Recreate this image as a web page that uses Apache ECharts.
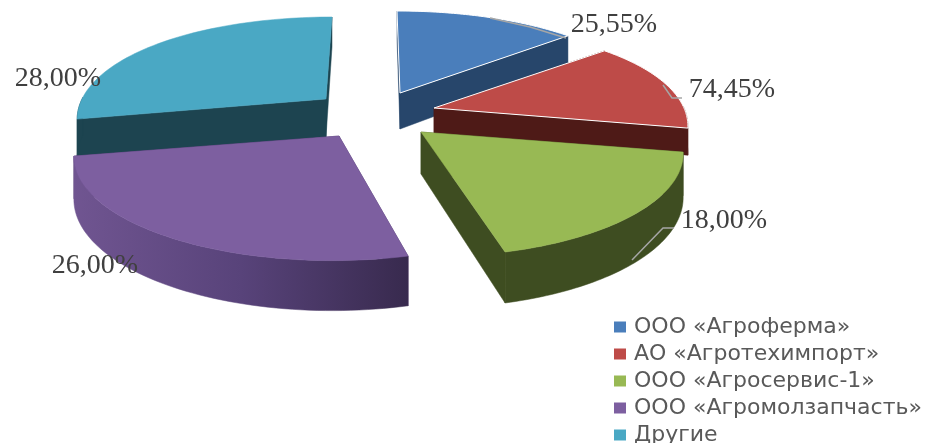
<!DOCTYPE html>
<html><head><meta charset="utf-8">
<style>html,body{margin:0;padding:0;background:#fff}#c{width:927px;height:443px}</style>
<script src="https://cdn.jsdelivr.net/npm/echarts@6/dist/echarts.min.js"></script>
</head><body><div id="c"></div>
<script>
// Data
const categories = ['ООО «Агроферма»','АО «Агротехимпорт»','ООО «Агросервис-1»','ООО «Агромолзапчасть»','Другие'];
const labelValues = [25.55, 74.45, 18.00, 26.00, 28.00];   // printed percentages
const sliceShares = [14, 14, 18, 26, 28];                  // angular share of each slice as drawn
const topColors  = ['#4a7ebb','#be4b48','#98b954','#7d5fa0','#4aa8c4'];
const sideColors = ['#27466b','#4e1a17','#3e4d21','#4a3566','#1d4450'];

// Presentation layout of the exploded pseudo-3D pie
const apex = [[400,93],[434,108],[421,132],[339,136],[326,99]];
const radiusX = [249,250,256.4,259.8,244];
const skew = [3,0,9.5,-7,-6];
const depthBase = [36,26,42,41,38];
const zOrder = [1,3,4,5,2];
const PERSP = 0.18, RY_A = 103.3, RY_B = 21.3, DEPTH_K = 0.22;
const labelPos = [[614,25],[732,90],[724,221],[95,266],[58,79]];
const leaders = [
  [[490,18],[530,27],[566,38]],
  [[663,85],[672,98],[682,98]],
  [[632,260],[663,228],[674,228]],
  [],[]
];

const chart = echarts.init(document.getElementById('c'));
const total = sliceShares.reduce((a,b)=>a+b,0);
const startShare = sliceShares.map((_,i)=>sliceShares.slice(0,i).reduce((a,b)=>a+b,0));

function project(i, a, down){
  const s = Math.sin(a), Y = -Math.cos(a);
  const x = apex[i][0] + radiusX[i]*s*(1+PERSP*Y) + skew[i]*Y;
  const y = apex[i][1] + Y*(RY_A+RY_B*Y);
  return down ? [x, y + depthBase[i]*(1+DEPTH_K*Y)] : [x, y];
}
function lower(i, p){ return [p[0], p[1]+depthBase[i]]; }

function sliceItem(i){
  return function(params, api){
    const a0 = startShare[i]/total*2*Math.PI;
    const a1 = a0 + api.value(0)/total*2*Math.PI;
    const n = 60, arc = [];
    for(let k=0;k<=n;k++) arc.push(a0+(a1-a0)*k/n);
    const children = [];
    const A = apex[i], AL = lower(i,A);
    const face = (pts,fill)=>children.push({type:'polygon',shape:{points:pts},style:{fill,stroke:fill,lineWidth:0.5}});
    face([A,project(i,a0),project(i,a0,true),AL], sideColors[i]);
    face([A,project(i,a1),project(i,a1,true),AL], sideColors[i]);
    const front = arc.filter(a=>-Math.cos(a)>=-0.02);
    if(front.length>1){
      const up = front.map(a=>project(i,a));
      const dn = front.map(a=>project(i,a,true)).reverse();
      let fill = sideColors[i];
      if(i===3) fill = new echarts.graphic.LinearGradient(0,0,1,0,[{offset:0,color:'#705591'},{offset:0.5,color:'#58437a'},{offset:1,color:'#382a4e'}]);
      face(up.concat(dn), fill);
    }
    const top = [A].concat(arc.map(a=>project(i,a)));
    children.push({type:'polygon',shape:{points:top},style:{fill:topColors[i],stroke:i<2?'#ffffff':topColors[i],lineWidth:i<2?1:0.5}});
    return {type:'group',children};
  };
}
function fmt(v){ return v.toFixed(2).replace('.',',')+'%'; }
function labelItem(params, api){
  const i = params.dataIndex, children = [];
  if(leaders[i].length) children.push({type:'polyline',shape:{points:leaders[i]},style:{stroke:'#a6a6a6',lineWidth:1.5,fill:'none'}});
  children.push({type:'text',x:labelPos[i][0],y:labelPos[i][1],style:{text:fmt(api.value(0)),fill:'#404040',font:'28px "Liberation Serif"',align:'center',verticalAlign:'middle'}});
  return {type:'group',children};
}

const series = categories.map((name,i)=>({
  name, type:'custom', coordinateSystem:'none', z:zOrder[i], silent:true, animation:false,
  itemStyle:{color:topColors[i]}, renderItem:sliceItem(i), data:[[sliceShares[i]]]
}));
series.push({name:'labels',type:'custom',coordinateSystem:'none',z:10,silent:true,animation:false,
  renderItem:labelItem,data:labelValues.map(v=>[v])});

chart.setOption({
  animation:false, backgroundColor:'#ffffff',
  legend:{
    data:categories, orient:'vertical', left:614, top:316, width:313, height:160, itemWidth:12, itemHeight:11, itemGap:5,
    icon:'rect', selectedMode:false, padding:0,
    textStyle:{fontFamily:'DejaVu Sans',fontSize:22,color:'#595959',lineHeight:22,padding:[0,0,0,3]}
  },
  series
});
</script></body></html>
